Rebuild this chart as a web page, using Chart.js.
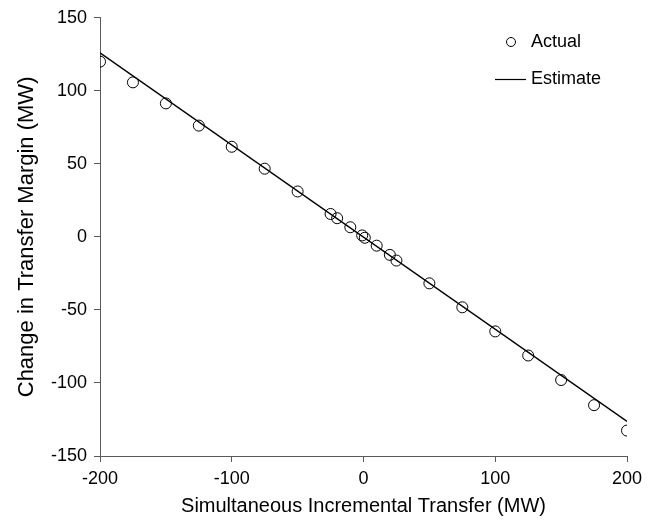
<!DOCTYPE html>
<html>
<head>
<meta charset="utf-8">
<script src="https://cdn.jsdelivr.net/npm/chart.js@4/dist/chart.umd.min.js"></script>
<style>
  html, body { margin: 0; padding: 0; background: #ffffff; }
  #wrap { width: 656px; height: 527px; }
</style>
</head>
<body>
<div id="wrap"><canvas id="c" width="656" height="527"></canvas></div>
<script>
// ---- data ----
const actualX = [-200, -175, -150, -125, -100, -75, -50, -25, -20, -10, -1, 1, 10, 20, 25, 50, 75, 100, 125, 150, 175, 200];
const actualY = [120, 105.8, 91.4, 76.2, 61.7, 46.7, 31.1, 15.7, 12.8, 6.6, 1.0, -0.6, -6.0, -12.3, -16.2, -31.8, -48.2, -64.7, -81.2, -98.0, -115.2, -132.6];
const estimateX = [-200, 200];
const estimateY = [126, -126.3];
const xTickValues = [-200, -100, 0, 100, 200];
const yTickValues = [-150, -100, -50, 0, 50, 100, 150];
const seriesNames = ['Actual', 'Estimate'];
const xTitle = 'Simultaneous Incremental Transfer (MW)';
const yTitle = 'Change in Transfer Margin (MW)';

const FONT = "'Liberation Sans', Arial, sans-serif";
const AXIS_COLOR = '#5a5a5a';

const actualPts = actualX.map((x, i) => ({ x: x, y: actualY[i] }));
const estimatePts = estimateX.map((x, i) => ({ x: x, y: estimateY[i] }));

const legendPlugin = {
  id: 'boxLegend',
  afterDraw(chart) {
    const ctx = chart.ctx;
    const ds = chart.data.datasets;
    ctx.save();
    ctx.font = '18px ' + FONT;
    ctx.fillStyle = '#000';
    ctx.textBaseline = 'middle';
    ctx.textAlign = 'left';
    // Actual (marker)
    ctx.beginPath();
    ctx.arc(511, 42, 4.5, 0, Math.PI * 2);
    ctx.strokeStyle = ds[0].borderColor;
    ctx.lineWidth = 1;
    ctx.stroke();
    ctx.fillText(ds[0].label, 531, 42);
    // Estimate (line)
    ctx.beginPath();
    ctx.moveTo(495, 79.5);
    ctx.lineTo(526, 79.5);
    ctx.strokeStyle = ds[1].borderColor;
    ctx.lineWidth = 1.2;
    ctx.stroke();
    ctx.fillText(ds[1].label, 531, 79);
    ctx.restore();
  }
};

new Chart(document.getElementById('c'), {
  type: 'scatter',
  data: {
    datasets: [
      {
        label: seriesNames[0],
        data: actualPts,
        showLine: false,
        pointStyle: 'circle',
        pointRadius: 5.5,
        pointBorderWidth: 1,
        borderColor: '#000',
        backgroundColor: 'rgba(255,255,255,0)',
        order: 1
      },
      {
        label: seriesNames[1],
        data: estimatePts,
        showLine: true,
        pointRadius: 0,
        borderColor: '#000',
        borderWidth: 1.3,
        backgroundColor: '#000',
        order: 2
      }
    ]
  },
  options: {
    responsive: false,
    animation: false,
    devicePixelRatio: 1,
    layout: { padding: { left: 0, right: 29, top: 14, bottom: 0 } },
    plugins: { legend: { display: false }, tooltip: { enabled: false } },
    scales: {
      x: {
        type: 'linear',
        min: -200, max: 200,
        afterBuildTicks(scale) { scale.ticks = xTickValues.map(v => ({ value: v })); },
        afterFit(scale) { scale.height = 71; },
        ticks: { color: '#000', font: { family: FONT, size: 18 }, padding: 6, maxRotation: 0,
                 callback: v => String(v) },
        grid: { display: true, drawOnChartArea: false, drawTicks: true, tickLength: 6, color: AXIS_COLOR, lineWidth: 1 },
        border: { display: true, color: AXIS_COLOR, width: 1 },
        title: { display: true, text: xTitle, color: '#000', font: { family: FONT, size: 20 }, padding: { top: 4, bottom: 9 } }
      },
      y: {
        type: 'linear',
        min: -150, max: 150,
        afterBuildTicks(scale) { scale.ticks = yTickValues.map(v => ({ value: v })); },
        afterFit(scale) { scale.width = 100; },
        ticks: { color: '#000', font: { family: FONT, size: 18 }, padding: 7,
                 callback: v => String(v) },
        grid: { display: true, drawOnChartArea: false, drawTicks: true, tickLength: 6, color: AXIS_COLOR, lineWidth: 1 },
        border: { display: true, color: AXIS_COLOR, width: 1 },
        title: { display: true, text: yTitle, color: '#000', font: { family: FONT, size: 22 }, padding: { top: 14, bottom: 4 } }
      }
    }
  },
  plugins: [legendPlugin]
});
</script>
</body>
</html>
